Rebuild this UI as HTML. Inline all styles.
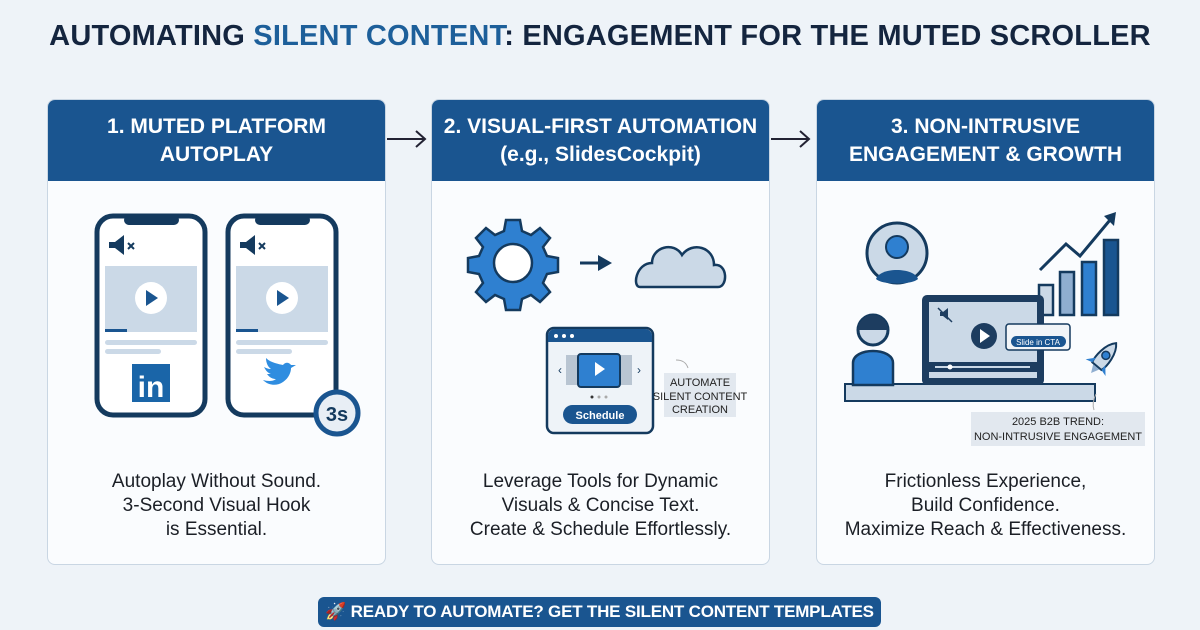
<!DOCTYPE html>
<html><head><meta charset="utf-8"><style>
html,body{margin:0;width:1200px;height:630px;overflow:hidden}
body{background:#eef3f8;font-family:"Liberation Sans",sans-serif;position:relative}
.t{position:absolute;top:20px;left:0;width:1200px;text-align:center;font-weight:bold;font-size:29px;color:#14253f;letter-spacing:0.2px}
.t span{color:#1d5f9a}
.p{position:absolute;top:99px;width:339px;height:466px;background:#fafcfe;border:1px solid #c9d6e3;border-radius:8px;overflow:hidden;box-sizing:border-box}
.h{height:81px;background:#1a5590;color:#fff;font-weight:bold;font-size:21px;text-align:center;display:flex;align-items:center;justify-content:center;line-height:28px}
.b{position:absolute;left:0;width:100%;top:370px;text-align:center;font-size:19px;line-height:24px;color:#1b1f26}
.btn{position:absolute;left:318px;top:597px;width:563px;height:30px;background:#1a5590;border-radius:6px;color:#fff;font-size:17px;line-height:30px;text-align:center;font-weight:bold;white-space:nowrap;letter-spacing:-0.2px}
</style></head><body>
<div class="t">AUTOMATING <span>SILENT CONTENT</span>: ENGAGEMENT FOR THE MUTED SCROLLER</div>

<div class="p" style="left:47px"><div class="h">1. MUTED PLATFORM<br>AUTOPLAY</div><div class="b">Autoplay Without Sound.<br>3-Second Visual Hook<br>is Essential.</div></div>
<div class="p" style="left:431px"><div class="h">2. VISUAL-FIRST AUTOMATION<br>(e.g., SlidesCockpit)</div><div class="b">Leverage Tools for Dynamic<br>Visuals &amp; Concise Text.<br>Create &amp; Schedule Effortlessly.</div></div>
<div class="p" style="left:816px"><div class="h">3. NON-INTRUSIVE<br>ENGAGEMENT &amp; GROWTH</div><div class="b">Frictionless Experience,<br>Build Confidence.<br>Maximize Reach &amp; Effectiveness.</div></div>

<svg width="1200" height="630" style="position:absolute;left:0;top:0" font-family="Liberation Sans,sans-serif">
<g stroke="#223" stroke-width="2" fill="none"><path d="M387 139H425M416 131l9 8-9 8"/><path d="M771 139H809M800 131l9 8-9 8"/></g>
<g stroke="#143a5e" stroke-width="5" fill="#fff">
<rect x="97" y="216" width="108" height="199" rx="16"/><rect x="228" y="216" width="108" height="199" rx="16"/></g>
<g fill="#143a5e"><rect x="124" y="215" width="55" height="10" rx="5"/><rect x="255" y="215" width="55" height="10" rx="5"/>
<path d="M109 242h6l9-7v20l-9-7h-6z"/><path d="M240 242h6l9-7v20l-9-7h-6z"/></g>
<g stroke="#143a5e" stroke-width="2"><path d="M128 243l6 6M134 243l-6 6M259 243l6 6M265 243l-6 6"/></g>
<g fill="#cbd9e7"><rect x="105" y="266" width="92" height="66"/><rect x="236" y="266" width="92" height="66"/>
<rect x="105" y="340" width="92" height="5" rx="2.5"/><rect x="105" y="349" width="56" height="5" rx="2.5"/>
<rect x="236" y="340" width="92" height="5" rx="2.5"/><rect x="236" y="349" width="56" height="5" rx="2.5"/></g>
<g fill="#1a5590"><rect x="105" y="329" width="22" height="3"/><rect x="236" y="329" width="22" height="3"/></g>
<circle cx="151" cy="298" r="16" fill="#fff"/><circle cx="282" cy="298" r="16" fill="#fff"/>
<path d="M146 290l12 8-12 8z" fill="#1a5590"/><path d="M277 290l12 8-12 8z" fill="#1a5590"/>
<rect x="132" y="364" width="38" height="38" fill="#1a65a8"/><text x="151" y="397" fill="#fff" font-size="30" font-weight="bold" text-anchor="middle">in</text>
<path d="M263 380c6 6 14 6 20 2 6-4 8-10 8-14l5-3-5 0c-2-3-6-3-8 0-4-1-12-2-17-7 0 5 2 9 5 11-3 0-5-1-7-2 2 4 4 6 7 7l-4 0c3 4 6 5 9 5-4 3-9 2-13 1z" fill="#2f8de0"/>
<circle cx="337" cy="413" r="21" fill="#e8eef5" stroke="#1a5590" stroke-width="5"/><text x="337" y="421" font-size="20" font-weight="bold" fill="#143a5e" text-anchor="middle">3s</text>
<g transform="translate(513,263)"><g fill="#2f80d0" stroke="#143a5e" stroke-width="2.5">
<path d="M-7-43h14l2 11 9 4 9-7 10 10-7 9 4 9 11 2v14l-11 2-4 9 7 9-10 10-9-7-9 4-2 11h-14l-2-11-9-4-9 7-10-10 7-9-4-9-11-2v-14l11-2 4-9-7-9 10-10 9 7 9-4z"/></g>
<circle r="19" fill="#fff" stroke="#143a5e" stroke-width="2.5"/></g>
<path d="M580 263h22" stroke="#143a5e" stroke-width="3"/><path d="M598 255l14 8-14 8z" fill="#143a5e"/>
<path d="M640 287h78c10 0 10-24-4-22 0-18-22-24-32-10-8-14-30-8-30 8-16 0-20 24-12 24z" fill="#cbd9e7" stroke="#143a5e" stroke-width="2.5"/>
<rect x="547" y="328" width="106" height="105" rx="7" fill="#eef3f8" stroke="#143a5e" stroke-width="2.5"/>
<path d="M548 342v-6a7 7 0 0 1 7-7h90a7 7 0 0 1 7 7v6z" fill="#1a5590"/>
<g fill="#fff"><circle cx="556" cy="336" r="2"/><circle cx="564" cy="336" r="2"/><circle cx="572" cy="336" r="2"/></g>
<rect x="566" y="355" width="66" height="30" fill="#b9c5d2"/>
<rect x="578" y="354" width="42" height="33" rx="3" fill="#2f80d0" stroke="#143a5e" stroke-width="2"/>
<path d="M595 362l10 7-10 7z" fill="#fff"/>
<text x="558" y="374" font-size="12" fill="#143a5e">‹</text><text x="637" y="374" font-size="12" fill="#143a5e">›</text>
<circle cx="592" cy="397" r="1.5" fill="#333"/><circle cx="599" cy="397" r="1.5" fill="#aaa"/><circle cx="606" cy="397" r="1.5" fill="#aaa"/>
<rect x="563" y="405" width="74" height="19" rx="9.5" fill="#1a5590"/><text x="600" y="419" font-size="11" font-weight="bold" fill="#fff" text-anchor="middle">Schedule</text>
<rect x="664" y="373" width="72" height="44" fill="#e2e8ef"/>
<g font-size="11" fill="#222" text-anchor="middle"><text x="700" y="386">AUTOMATE</text><text x="700" y="400">SILENT CONTENT</text><text x="700" y="413">CREATION</text></g>
<path d="M688 368c-2-6-6-8-12-8" stroke="#aaa" fill="none"/>
<circle cx="897" cy="253" r="30" fill="#cbd9e7" stroke="#143a5e" stroke-width="3"/>
<circle cx="897" cy="247" r="11" fill="#2f80d0" stroke="#143a5e" stroke-width="2"/>
<path d="M876 279c4-12 38-12 42 0c-6 6-36 6-42 0z" fill="#1a5590"/>
<g stroke="#143a5e" stroke-width="2.5"><rect x="1039" y="285" width="14" height="30" fill="#cbd9e7"/><rect x="1060" y="272" width="14" height="43" fill="#8faed0"/><rect x="1082" y="262" width="14" height="53" fill="#2f80d0"/><rect x="1104" y="240" width="14" height="75" fill="#1a5590"/></g>
<path d="M1040 270l26-26 14 12 30-36" stroke="#143a5e" stroke-width="3" fill="none"/><path d="M1116 212l-2 14-10-10z" fill="#143a5e"/>
<rect x="845" y="384" width="250" height="17" fill="#cbd9e7" stroke="#143a5e" stroke-width="2"/>
<rect x="922" y="295" width="122" height="90" rx="5" fill="#1d3d60"/><rect x="929" y="302" width="108" height="76" fill="#cbd9e7"/>
<rect x="929" y="362" width="108" height="10" fill="#1d3d60"/><rect x="935" y="366" width="95" height="2" fill="#cbd9e7"/><circle cx="950" cy="367" r="2.5" fill="#fff"/>
<circle cx="984" cy="336" r="13" fill="#1d3d60"/><path d="M980 329l10 7-10 7z" fill="#fff"/>
<path d="M940 312h3l5-4v12l-5-4h-3z" fill="#1d3d60"/><path d="M938 308l14 14" stroke="#1d3d60" stroke-width="1.5"/>
<rect x="1006" y="324" width="64" height="26" rx="3" fill="#f2f5f8" stroke="#143a5e" stroke-width="1.5"/>
<rect x="1011" y="336" width="55" height="11" rx="5.5" fill="#1a5590"/><text x="1038" y="345" font-size="8" fill="#fff" text-anchor="middle">Slide in CTA</text>
<circle cx="873" cy="330" r="15" fill="#cbd9e7" stroke="#143a5e" stroke-width="3"/>
<path d="M873 315a15 15 0 0 0-15 15h30a15 15 0 0 0-15-15z" fill="#1d3d60"/>
<path d="M853 385v-22c0-16 40-16 40 0v22z" fill="#2f80d0" stroke="#143a5e" stroke-width="2.5"/>
<g transform="translate(1102,360) rotate(40)"><path d="M0-22c8 8 8 24 6 30h-12c-2-6-2-22 6-30z" fill="#cbd9e7" stroke="#143a5e" stroke-width="2"/><circle cy="-6" r="4" fill="#2f80d0" stroke="#143a5e" stroke-width="1.5"/><path d="M-6 2l-7 8 7-2zM6 2l7 8-7-2z" fill="#2f80d0"/><path d="M-4 9l4 8 4-8z" fill="#8faed0"/></g>
<rect x="971" y="412" width="174" height="34" fill="#e2e8ef"/>
<g font-size="11" fill="#222" text-anchor="middle"><text x="1058" y="425">2025 B2B TREND:</text><text x="1058" y="440">NON-INTRUSIVE ENGAGEMENT</text></g>
<path d="M1094 410c-2-6 0-12 2-16" stroke="#aaa" fill="none"/>
</svg>
<div class="btn">🚀 READY TO AUTOMATE? GET THE SILENT CONTENT TEMPLATES</div>
</body></html>
